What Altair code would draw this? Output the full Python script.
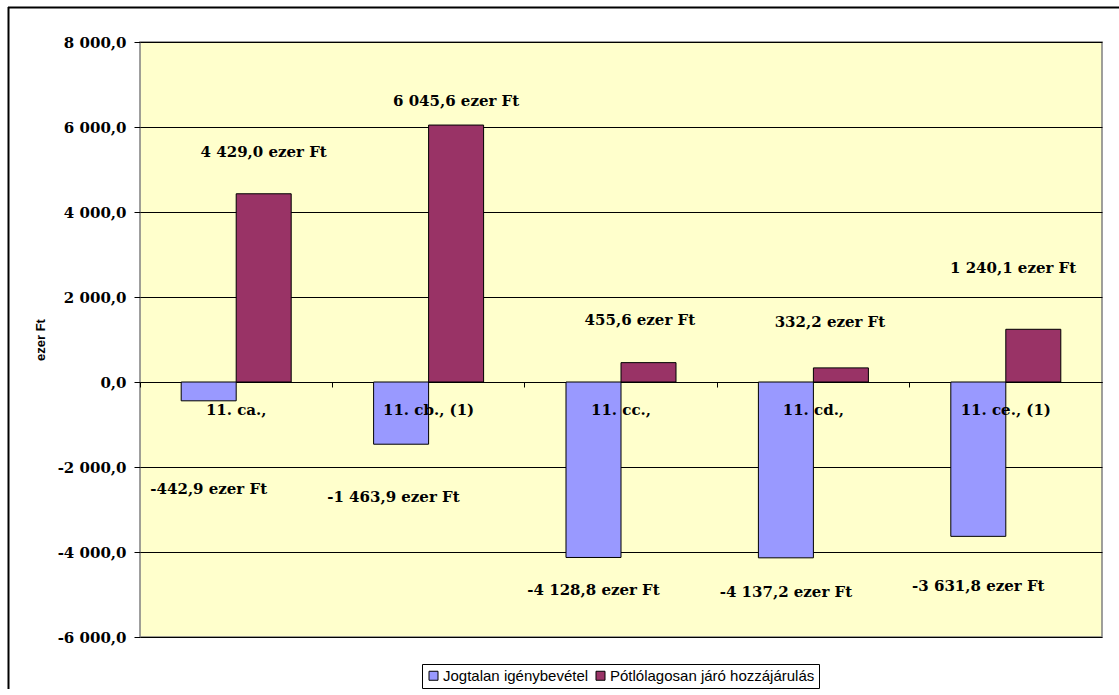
import altair as alt
import pandas as pd

# --- data (ezer Ft) ---------------------------------------------------------
categories = ["11. ca.,", "11. cb., (1)", "11. cc.,", "11. cd.,", "11. ce., (1)"]
series_names = ["Jogtalan igénybevétel", "Pótlólagosan járó hozzájárulás"]
jogtalan = [-442.9, -1463.9, -4128.8, -4137.2, -3631.8]
potlolagos = [4429.0, 6045.6, 455.6, 332.2, 1240.1]
y_ticks = [-6000, -4000, -2000, 0, 2000, 4000, 6000, 8000]

# value-label anchors: height in ezer Ft, sideways nudge in category widths
jog_label_y = [-2518, -2706, -4894, -4941, -4800]
pot_label_y = [5412, 6612, 1459, 1412, 2682]
jog_label_dx = [0, -0.04, 0, 0, 0]
pot_label_dx = [0, 0, -0.045, -0.057, -0.105]

series_colors = ["#9999FF", "#993366"]

# --- layout -----------------------------------------------------------------
TOTAL_W, TOTAL_H = 1119, 689
PLOT_W, PLOT_H = 962, 595
PAD_LEFT, PAD_TOP = 140, 42
OFFSET_PAD = 0.749                      # outer padding of the in-group band
STEP = 1.0 / (2 + 2 * OFFSET_PAD)       # bar width as share of a category
HALF = STEP / 2

SERIF = "DejaVu Serif"
SANS = "Liberation Sans"

rows = []
for i, c in enumerate(categories):
    rows.append(dict(cat=c, idx=i, series=series_names[0], value=jogtalan[i],
                     ly=jog_label_y[i], ldx=jog_label_dx[i], side=-1))
    rows.append(dict(cat=c, idx=i, series=series_names[1], value=potlolagos[i],
                     ly=pot_label_y[i], ldx=pot_label_dx[i], side=1))
df = pd.DataFrame(rows)
cats_df = pd.DataFrame({"cat": categories, "idx": list(range(len(categories)))})

y_scale = alt.Scale(domain=[y_ticks[0], y_ticks[-1]], nice=False, zero=False)
zero_px = PLOT_H * y_ticks[-1] / (y_ticks[-1] - y_ticks[0])

y_axis = alt.Axis(values=y_ticks, format=",.1f", title="ezer Ft",
                  grid=True, gridColor="black", gridWidth=1,
                  domain=False, tickColor="black", tickSize=6,
                  labelPadding=8, labelFont=SERIF, labelFontWeight="bold",
                  labelFontSize=15, labelColor="black",
                  titleFont=SANS, titleFontWeight="bold", titleFontSize=13,
                  titleColor="black", titleX=-99.5, titleY=PLOT_H / 2,
                  titleAngle=-90, titleAlign="center", titleBaseline="middle")

# outer frame of the chart object (top and left edges)
frame_df = pd.DataFrame({"k": [0]})
frame_top = alt.Chart(frame_df).mark_rule(color="black", strokeWidth=2).encode(
    x=alt.value(8 - PAD_LEFT), x2=alt.value(TOTAL_W - PAD_LEFT),
    y=alt.value(7.5 - PAD_TOP), y2=alt.value(7.5 - PAD_TOP))
frame_left = alt.Chart(frame_df).mark_rule(color="black", strokeWidth=2).encode(
    x=alt.value(8.5 - PAD_LEFT), x2=alt.value(8.5 - PAD_LEFT),
    y=alt.value(7 - PAD_TOP), y2=alt.value(TOTAL_H - PAD_TOP))

bars = alt.Chart(df).mark_bar(stroke="black", strokeWidth=1).encode(
    x=alt.X("cat:N", sort=categories,
            scale=alt.Scale(paddingInner=0, paddingOuter=0),
            axis=alt.Axis(title=None, labels=False, grid=False,
                          offset=-(PLOT_H - zero_px), bandPosition=0,
                          domainColor="black", domainWidth=1,
                          tickColor="black", tickSize=5)),
    xOffset=alt.XOffset("series:N", sort=series_names,
                        scale=alt.Scale(paddingInner=0, paddingOuter=OFFSET_PAD)),
    y=alt.Y("value:Q", scale=y_scale, axis=y_axis),
    color=alt.Color("series:N", sort=series_names,
                    scale=alt.Scale(domain=series_names, range=series_colors),
                    legend=alt.Legend(title=None, orient="none", direction="horizontal",
                                      legendX=282, legendY=622,
                                      strokeColor="black", padding=4,
                                      symbolType="square", symbolSize=81,
                                      symbolStrokeColor="black", symbolStrokeWidth=1,
                                      labelFont=SANS, labelFontSize=15,
                                      labelColor="black", labelOffset=2,
                                      labelLimit=0, columnPadding=4)),
)

label_x = alt.Scale(domain=[0, len(categories)], nice=False, zero=False)

value_labels = alt.Chart(df).transform_calculate(
    lx=f"datum.idx + 0.5 + datum.side * {HALF} + datum.ldx",
    txt="format(datum.value, ',.1f') + ' ezer Ft'",
).mark_text(font=SERIF, fontWeight="bold", fontSize=15, color="black",
            baseline="middle", align="center").encode(
    x=alt.X("lx:Q", scale=label_x, axis=None),
    y=alt.Y("ly:Q", scale=y_scale, axis=y_axis),
    text="txt:N",
)

cat_labels = alt.Chart(cats_df).transform_calculate(
    cx="datum.idx + 0.5", zero="0",
).mark_text(font=SERIF, fontWeight="bold", fontSize=15, color="black",
            baseline="middle", align="center", dy=28).encode(
    x=alt.X("cx:Q", scale=label_x, axis=None),
    y=alt.Y("zero:Q", scale=y_scale, axis=y_axis),
    text="cat:N",
)

chart = alt.layer(bars, value_labels, cat_labels, frame_top, frame_left).resolve_scale(
    x="independent"
).properties(
    width=PLOT_W, height=PLOT_H,
    autosize=alt.AutoSizeParams(type="none"),
    padding={"left": PAD_LEFT, "top": PAD_TOP, "right": TOTAL_W - PAD_LEFT - PLOT_W,
             "bottom": TOTAL_H - PAD_TOP - PLOT_H},
    background="white",
).configure(
    locale={"number": {"decimal": ",", "thousands": " ", "grouping": [3],
                       "currency": ["", ""], "minus": "-"}},
).configure_view(
    fill="#FFFFCC", stroke="#808080", strokeWidth=1.5,
)

chart.save("out.html", embed_options={"renderer": "svg", "actions": False})
